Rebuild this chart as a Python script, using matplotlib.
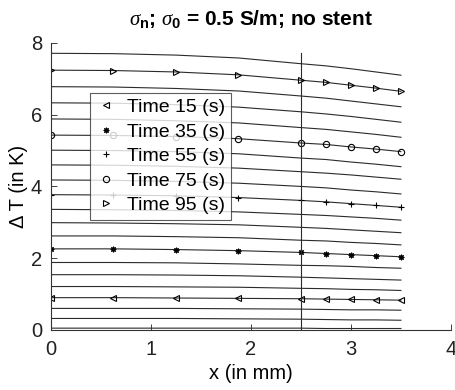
import matplotlib.pyplot as plt
import numpy as np

plt.rcParams["font.family"] = ["Liberation Sans", "DejaVu Sans"]
plt.rcParams["mathtext.fontset"] = "custom"
plt.rcParams["mathtext.it"] = "Liberation Serif:italic"
plt.rcParams["mathtext.bf"] = "Liberation Sans:bold"
plt.rcParams["mathtext.rm"] = "Liberation Sans"

# positions along the vessel (mm)
x_mm = [0.0, 0.625, 1.25, 1.875, 2.5, 2.75, 3.0, 3.25, 3.5]
boundary_x = 2.5

# times (s) of every curve, temperature rise (K) along x
times = [0, 5, 10, 15, 20, 25, 30, 35, 40, 45, 50, 55, 60, 65, 70, 75, 80, 85, 90, 95, 100]
dT = [
    [0.05, 0.05, 0.05, 0.05, 0.05, 0.04, 0.04, 0.04, 0.04],
    [0.32, 0.32, 0.32, 0.31, 0.30, 0.29, 0.28, 0.28, 0.27],
    [0.60, 0.60, 0.60, 0.59, 0.58, 0.57, 0.56, 0.56, 0.55],
    [0.90, 0.90, 0.89, 0.88, 0.87, 0.86, 0.85, 0.84, 0.83],
    [1.21, 1.21, 1.20, 1.19, 1.16, 1.15, 1.13, 1.12, 1.10],
    [1.54, 1.54, 1.53, 1.51, 1.47, 1.45, 1.43, 1.41, 1.39],
    [1.88, 1.88, 1.87, 1.84, 1.80, 1.79, 1.77, 1.74, 1.72],
    [2.26, 2.26, 2.24, 2.21, 2.16, 2.13, 2.10, 2.07, 2.04],
    [2.62, 2.62, 2.60, 2.57, 2.50, 2.48, 2.44, 2.41, 2.37],
    [2.99, 2.98, 2.96, 2.93, 2.86, 2.83, 2.79, 2.75, 2.71],
    [3.36, 3.35, 3.33, 3.29, 3.22, 3.19, 3.15, 3.11, 3.06],
    [3.77, 3.76, 3.74, 3.69, 3.61, 3.57, 3.52, 3.47, 3.42],
    [4.18, 4.17, 4.14, 4.09, 4.00, 3.96, 3.90, 3.85, 3.79],
    [4.60, 4.59, 4.56, 4.51, 4.41, 4.37, 4.32, 4.26, 4.20],
    [5.01, 5.00, 4.97, 4.91, 4.79, 4.75, 4.68, 4.62, 4.55],
    [5.43, 5.42, 5.39, 5.33, 5.21, 5.17, 5.10, 5.04, 4.97],
    [5.88, 5.87, 5.83, 5.77, 5.64, 5.59, 5.52, 5.45, 5.37],
    [6.33, 6.32, 6.28, 6.21, 6.08, 6.02, 5.95, 5.87, 5.79],
    [6.78, 6.77, 6.73, 6.66, 6.52, 6.46, 6.38, 6.30, 6.22],
    [7.24, 7.23, 7.19, 7.11, 6.96, 6.90, 6.82, 6.74, 6.65],
    [7.71, 7.70, 7.66, 7.58, 7.42, 7.36, 7.28, 7.19, 7.10],
]

# curves that get markers + legend
marked = {15: "<", 35: (8, 2, 0), 55: "+", 75: "o", 95: ">"}

fig = plt.figure(figsize=(4.55, 3.9), dpi=100)
ax = fig.add_axes([0.112, 0.154, 0.879, 0.736])

line_col = "#2b2b2b"
handles = []
for t, vals in zip(times, dT):
    ax.plot(x_mm, vals, color=line_col, lw=0.8)
    if t in marked:
        m = marked[t]
        ms = 4 if m == (8, 2, 0) else 4.5
        ax.plot(x_mm, vals, ls="none", marker=m, ms=ms,
                mfc="none", mec="black", mew=0.8)
        h, = ax.plot([], [], ls="none", marker=m, ms=ms,
                     mfc="none", mec="black", mew=0.8, label="Time %d (s)" % t)
        handles.append(h)

ymax = np.max(dT)
ax.plot([boundary_x, boundary_x], [0, ymax], color=line_col, lw=0.8)

ax.set_xlim(0, 4)
ax.set_ylim(0, 8)
ax.set_xticks([0, 1, 2, 3, 4])
ax.set_yticks([0, 2, 4, 6, 8])
ax.tick_params(direction="in", labelsize=14.5, length=4, width=0.6, colors="#222222")
ax.tick_params(axis="x", pad=7)
ax.tick_params(axis="y", pad=6.5)
for s in ["top", "right"]:
    ax.spines[s].set_visible(False)
for s in ["left", "bottom"]:
    ax.spines[s].set_linewidth(0.8)
    ax.spines[s].set_color("#333333")

ax.set_xlabel("x (in mm)", fontsize=14.5, labelpad=4)
ax.set_ylabel("\u0394 T (in K)", fontsize=14.5, labelpad=2)
ax.set_title(r"$\sigma_{\mathbf{n}}$; $\sigma_{\mathbf{0}}$ = 0.5 S/m; no stent",
             fontsize=15, fontweight="bold", pad=13)

leg = ax.legend(handles=handles, loc="upper left", bbox_to_anchor=(0.0975, 0.826),
                borderaxespad=0, fontsize=14, frameon=True, fancybox=False,
                handlelength=1.0, handletextpad=0.6, labelspacing=0.35,
                borderpad=0.3)
leg.get_frame().set_edgecolor("#333333")
leg.get_frame().set_linewidth(0.8)

fig.savefig("out.png", dpi=100)
